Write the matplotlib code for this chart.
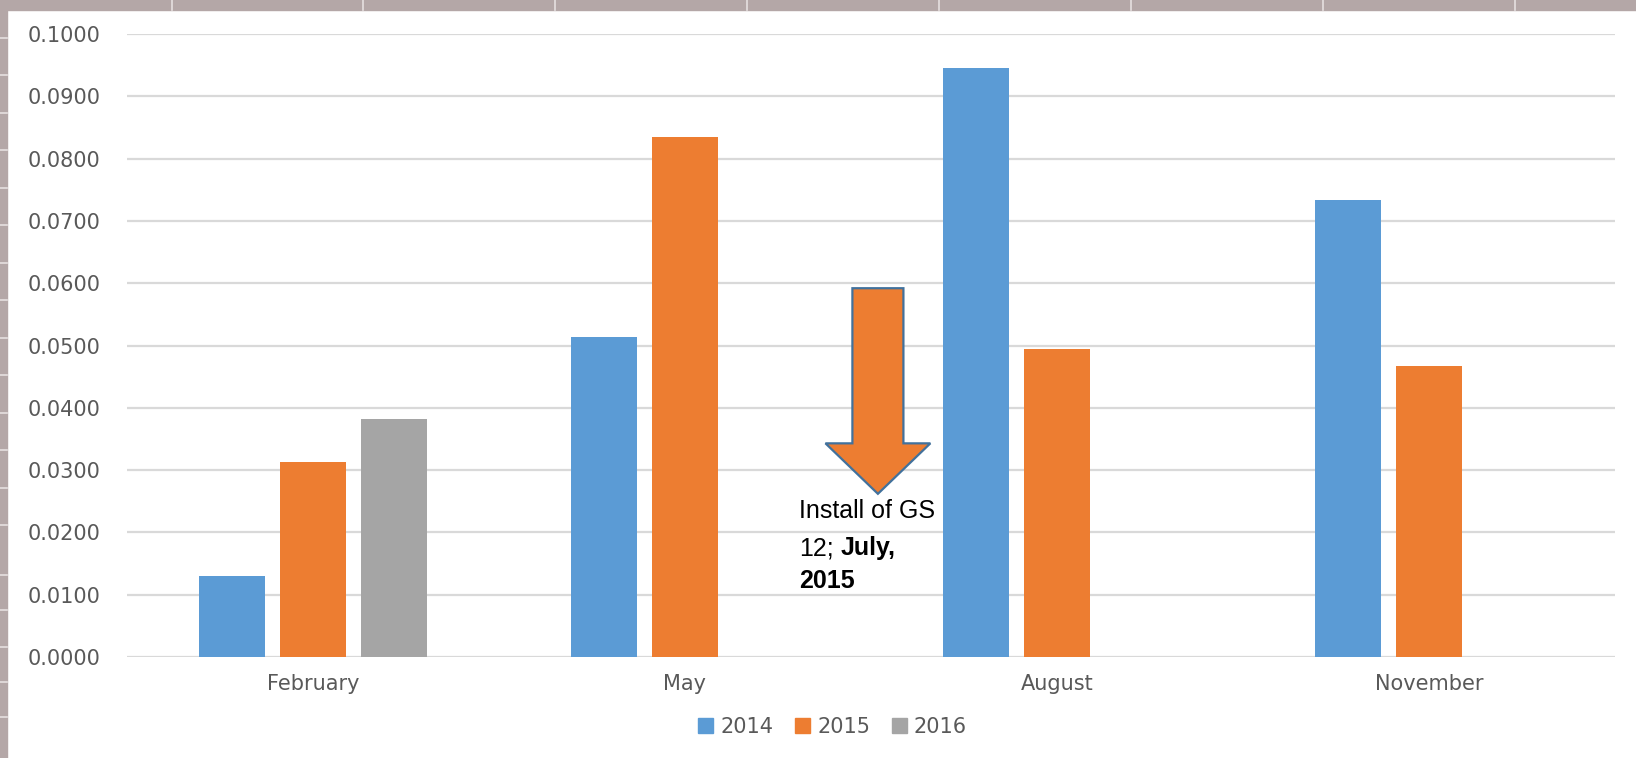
import numpy as np
import matplotlib.pyplot as plt
from matplotlib.patches import Polygon, Rectangle, Patch
from matplotlib.lines import Line2D

# values
months = ['February', 'May', 'August', 'November']
years = ['2014', '2015', '2016']
v2014 = [0.0130, 0.0513, 0.0946, 0.0734]
v2015 = [0.0313, 0.0834, 0.0494, 0.0467]
v2016 = [0.0382, 0.0, 0.0, 0.0]
colors = ['#5b9bd5', '#ed7d31', '#a5a5a5']
yticks = np.arange(0, 0.1001, 0.01)

txt_grey = '#595959'
grid_grey = '#d9d9d9'

fig = plt.figure(figsize=(16.36, 7.58), dpi=100)
ax = fig.add_axes([0.0776, 0.1332, 0.9094, 0.8219])

x = np.arange(len(months))
step = 0.218
width = 0.177
for i, vals in enumerate([v2014, v2015, v2016]):
    vals = np.array(vals)
    keep = vals > 0
    ax.bar(x[keep] + (i - 1) * step, vals[keep], width, color=colors[i], zorder=2)

ax.set_xlim(-0.5, 3.5)
ax.set_ylim(0, 0.1)
ax.set_yticks(yticks)
ax.set_yticklabels(['%.4f' % t for t in yticks])
ax.set_xticks(x)
ax.set_xticklabels(months)
ax.tick_params(axis='y', length=0, pad=19, labelsize=15, labelcolor=txt_grey)
ax.tick_params(axis='x', length=0, pad=12, labelsize=15, labelcolor=txt_grey)
for s in ax.spines.values():
    s.set_visible(False)
ax.yaxis.grid(True, color=grid_grey, lw=1.6, zorder=0)
ax.set_axisbelow(True)

# the down arrow marking the install
ax_c = 1.519       # arrow centre (category units)
sh_w = 0.0686      # shaft half width
hd_w = 0.141       # head half width
top, neck, tip = 0.0592, 0.0343, 0.0262
arrow = Polygon([(ax_c - sh_w, top), (ax_c + sh_w, top), (ax_c + sh_w, neck),
                 (ax_c + hd_w, neck), (ax_c, tip), (ax_c - hd_w, neck),
                 (ax_c - sh_w, neck)],
                closed=True, facecolor='#ed7d31', edgecolor='#41719c', lw=1.6, zorder=3)
ax.add_patch(arrow)

fnt = 'Liberation Sans'
fig.text(0.4884, 0.3166, 'Install of GS', fontsize=18, family=fnt, va='baseline')
t12 = fig.text(0.4884, 0.2678, '12;', fontsize=18, family=fnt, va='baseline')
ax.annotate('July,', xy=(1, 0), xycoords=t12, xytext=(5, 0), textcoords='offset points',
            fontsize=18, family=fnt, fontweight='bold', va='bottom', ha='left')
fig.text(0.4884, 0.2243, '2015', fontsize=18, family=fnt, fontweight='bold', va='baseline')

handles = [Patch(color=c) for c in colors]
fig.legend(handles, years, loc='center', bbox_to_anchor=(0.509, 0.041), ncol=3,
           frameon=False, fontsize=15, labelcolor=txt_grey, handlelength=0.7,
           handleheight=0.7, handletextpad=0.35, columnspacing=1.05)

# spreadsheet cell borders around the chart
W, H = 1636, 758
band = '#b4a7a7'
fig.patches.append(Rectangle((0, 1 - 10 / H), 1, 10 / H, transform=fig.transFigure,
                             color=band, zorder=0))
fig.patches.append(Rectangle((0, 0), 7 / W, 1, transform=fig.transFigure,
                             color=band, zorder=0))
for px in [172, 363, 555, 747, 939, 1131, 1323, 1515]:
    fig.lines.append(Line2D([px / W, px / W], [1 - 10 / H, 1], transform=fig.transFigure,
                            color='#e6e0e0', lw=1.2))
for py in [38, 75, 113, 150, 188, 225, 263, 300, 338, 375, 413, 450, 488, 525,
           575, 610, 647, 682, 717]:
    fig.lines.append(Line2D([0, 7 / W], [1 - py / H, 1 - py / H], transform=fig.transFigure,
                            color='#e6e0e0', lw=1.2))

fig.savefig('out.png', dpi=100)
